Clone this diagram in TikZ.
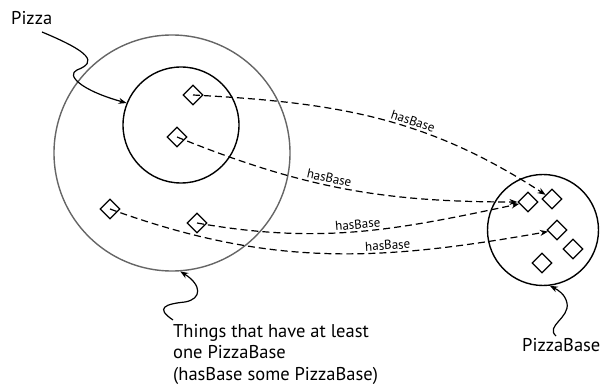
\documentclass[tikz,border=0pt]{standalone}
\usepackage{fontspec}
\setmainfont{PT Sans}
\usetikzlibrary{shapes.geometric, arrows.meta, positioning}

\begin{document}
\begin{tikzpicture}[
    x=1pt, y=1pt,
    set/.style = {circle, draw, line width=1.4pt, inner sep=0pt},
    item/.style = {diamond, draw, line width=1.2pt, inner sep=0pt, minimum width=20pt, minimum height=20pt},
    link/.style = {->, dash pattern=on 7pt off 4pt, line width=1.2pt},
    pointer/.style = {->, line width=1.2pt},
    caption/.style = {align=left, inner sep=0pt, font=\fontsize{18.5}{21.5}\selectfont},
    tag/.style = {inner sep=2pt, font=\fontsize{13}{14}\selectfont},
    >={Stealth[length=8pt, width=6pt]}]

    \useasboundingbox (0,0) rectangle (603,-387);

    \node[set, draw=black!60, minimum size=236pt] (things) at (172,-153) {};
    \node[set, minimum size=116pt] (pizza) at (181,-125) {};
    \node[set, minimum size=111pt] (bases) at (543,-230) {};

    \node[item] (p1) at (193,-95) {};
    \node[item] (p2) at (177,-137) {};
    \node[item] (p3) at (110,-209) {};
    \node[item] (p4) at (197,-223) {};
    \node[item] (b1) at (528,-202) {};
    \node[item] (b2) at (552,-199) {};
    \node[item] (b3) at (557,-230) {};
    \node[item] (b4) at (573,-249) {};
    \node[item] (b5) at (542,-263) {};

    \node[caption, anchor=base west] (pizzalbl) at (11,-25) {Pizza};
    \node[caption, anchor=north west] (thingslbl) at (173,-324) {Things that have at least\\one PizzaBase\\(hasBase some PizzaBase)};
    \node[caption, anchor=base west] (baselbl) at (522,-352) {PizzaBase};

    \coordinate (pizzatail) at (42,-32);
    \coordinate (thingstail) at (173,-320);
    \coordinate (basetail) at (556,-336);

    \draw[pointer] (pizzatail) .. controls (90,-52) and (98,-62) .. (77,-70) .. controls (66,-75) and (80,-90) .. (pizza.158);
    \draw[pointer] (thingstail) .. controls (155,-308) and (165,-304) .. (185,-302) .. controls (202,-299) and (202,-285) .. (things.-86);
    \draw[pointer] (basetail) .. controls (545,-326) and (570,-318) .. (567,-303) .. controls (565,-294) and (558,-290) .. (bases.-83);

    \draw[link] (p1.center) to[out=-3, in=147] node[tag, pos=0.6, sloped, above] {hasBase} (b2);
    \draw[link] (p2.center) to[out=-22, in=180] node[tag, pos=0.45, sloped, above] {hasBase} (b1);
    \draw[link] (p4.center) to[out=-10, in=192] node[tag, pos=0.5, sloped, above] {hasBase} (b1);
    \draw[link] (p3.center) to[out=-20, in=190] node[tag, pos=0.65, sloped, above] {hasBase} (b3);
\end{tikzpicture}
\end{document}
